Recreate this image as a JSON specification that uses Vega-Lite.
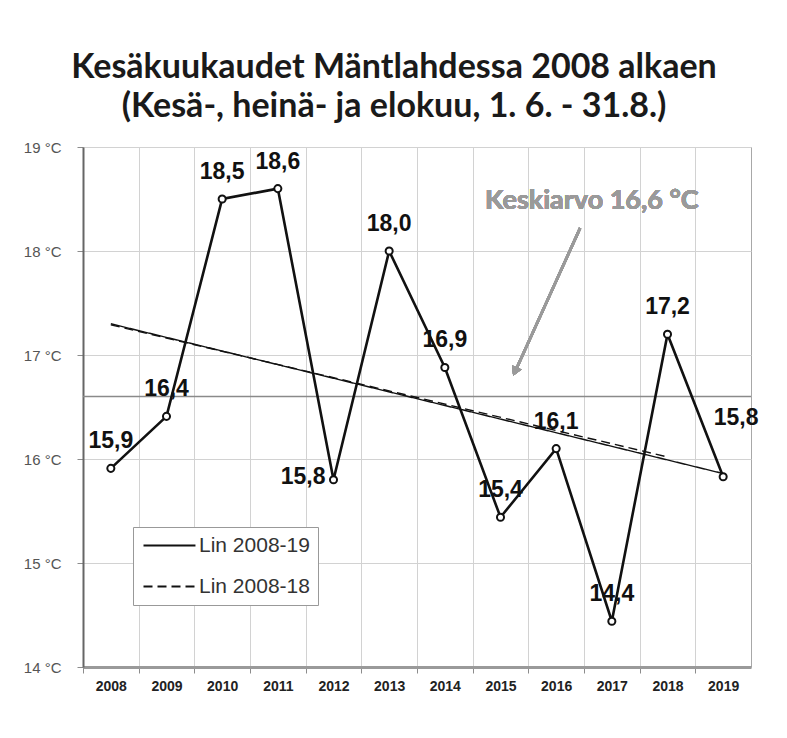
{
  "$schema": "https://vega.github.io/schema/vega-lite/v6.json",
  "width": 668,
  "height": 520,
  "autosize": {"type": "none"},
  "padding": {"left": 83, "top": 147, "right": 36, "bottom": 71},
  "background": "white",
  "title": {
    "text": ["Kesäkuukaudet Mäntlahdessa 2008 alkaen", "(Kesä-, heinä- ja elokuu, 1. 6. - 31.8.)"],
    "anchor": "middle",
    "dx": -23,
    "offset": 16,
    "font": "Lato",
    "fontSize": 34,
    "fontWeight": "bold",
    "color": "#1a1a1a",
    "lineHeight": 39
  },
  "config": {
    "locale": {"number": {"decimal": ",", "thousands": " ", "grouping": [3], "currency": ["", " €"]}},
    "view": {"stroke": "#a8a8a8", "strokeWidth": 1},
    "axis": {"gridColor": "#d2d2d2", "gridWidth": 1, "tickColor": "#8c8c8c", "labelColor": "#222"}
  },
  "data": {
    "values": [
      {"vuosi": 2008, "lampotila": 15.91},
      {"vuosi": 2009, "lampotila": 16.41},
      {"vuosi": 2010, "lampotila": 18.50},
      {"vuosi": 2011, "lampotila": 18.60},
      {"vuosi": 2012, "lampotila": 15.80},
      {"vuosi": 2013, "lampotila": 18.00},
      {"vuosi": 2014, "lampotila": 16.88},
      {"vuosi": 2015, "lampotila": 15.44},
      {"vuosi": 2016, "lampotila": 16.10},
      {"vuosi": 2017, "lampotila": 14.44},
      {"vuosi": 2018, "lampotila": 17.20},
      {"vuosi": 2019, "lampotila": 15.83}
    ]
  },
  "layer": [
    {
      "data": {"values": [{"lampotila": 16.6}]},
      "mark": {"type": "rule", "color": "#8a8a8a", "strokeWidth": 1.5},
      "encoding": {
        "y": {"field": "lampotila", "type": "quantitative", "title": null, "scale": {"domain": [14, 19], "nice": false, "zero": false}}
      }
    },
    {
      "data": {
        "values": [
          {"vuosi": 2008, "lampotila": 17.30, "sarja": "Lin 2008-19"},
          {"vuosi": 2019, "lampotila": 15.86, "sarja": "Lin 2008-19"},
          {"vuosi": 2008, "lampotila": 17.29, "sarja": "Lin 2008-18"},
          {"vuosi": 2018, "lampotila": 16.02, "sarja": "Lin 2008-18"}
        ]
      },
      "mark": {"type": "line", "color": "#111", "strokeWidth": 1.4},
      "encoding": {
        "x": {"field": "vuosi", "type": "quantitative", "title": null},
        "y": {"field": "lampotila", "type": "quantitative", "title": null},
        "strokeDash": {
          "field": "sarja",
          "type": "nominal",
          "scale": {"domain": ["Lin 2008-19", "Lin 2008-18"], "range": [[1, 0], [9, 5]]},
          "legend": {
            "title": null,
            "orient": "none",
            "legendX": 50,
            "legendY": 380,
            "symbolType": "M0,0H6",
            "symbolSize": 300,
            "symbolOffset": -8,
            "symbolStrokeWidth": 1.8,
            "symbolStrokeColor": "#111",
            "labelFontSize": 21,
            "labelFont": "Liberation Sans",
            "labelColor": "#333",
            "labelOffset": 45,
            "padding": 8,
            "strokeColor": "#999",
            "fillColor": "white",
            "rowPadding": 19
          }
        }
      }
    },
    {
      "mark": {"type": "line", "color": "#111", "strokeWidth": 2.6},
      "encoding": {
        "x": {
          "field": "vuosi",
          "type": "quantitative",
          "title": null,
          "scale": {"domain": [2007.5, 2019.5], "nice": false, "zero": false},
          "axis": {
            "format": "d",
            "tickCount": 12,
            "tickOffset": -27.83,
            "labelOffset": 27.83,
            "grid": true,
            "domainColor": "#9a9a9a",
            "domainWidth": 3,
            "tickSize": 6,
            "labelFont": "Liberation Sans",
            "labelFontWeight": "bold",
            "labelFontSize": 14,
            "labelPadding": 6
          }
        },
        "y": {
          "field": "lampotila",
          "type": "quantitative",
          "title": null,
          "axis": {
            "values": [14, 15, 16, 17, 18, 19],
            "labelExpr": "datum.value + ' °C'",
            "grid": true,
            "tickSize": 6,
            "labelPadding": 16,
            "labelFont": "Liberation Sans",
            "labelFontSize": 15,
            "labelColor": "#555",
            "domainColor": "#666",
            "domainWidth": 2
          }
        }
      }
    },
    {
      "mark": {"type": "point", "shape": "circle", "filled": true, "fill": "white", "stroke": "#111", "strokeWidth": 2, "size": 50, "opacity": 1},
      "encoding": {
        "x": {"field": "vuosi", "type": "quantitative", "title": null},
        "y": {"field": "lampotila", "type": "quantitative", "title": null}
      }
    },
    {
      "transform": [{"filter": "datum.vuosi != 2012 && datum.vuosi != 2019"}],
      "mark": {"type": "text", "font": "Liberation Sans", "fontWeight": "bold", "fontSize": 23, "color": "#111", "align": "center", "baseline": "alphabetic", "dy": -20},
      "encoding": {
        "x": {"field": "vuosi", "type": "quantitative", "title": null},
        "y": {"field": "lampotila", "type": "quantitative", "title": null},
        "text": {"field": "lampotila", "type": "quantitative", "format": ".1f"}
      }
    },
    {
      "transform": [{"filter": "datum.vuosi == 2012"}],
      "mark": {"type": "text", "font": "Liberation Sans", "fontWeight": "bold", "fontSize": 23, "color": "#111", "align": "right", "baseline": "alphabetic", "dx": -8, "dy": 4},
      "encoding": {
        "x": {"field": "vuosi", "type": "quantitative", "title": null},
        "y": {"field": "lampotila", "type": "quantitative", "title": null},
        "text": {"field": "lampotila", "type": "quantitative", "format": ".1f"}
      }
    },
    {
      "transform": [{"filter": "datum.vuosi == 2019"}],
      "mark": {"type": "text", "font": "Liberation Sans", "fontWeight": "bold", "fontSize": 23, "color": "#111", "align": "center", "baseline": "alphabetic", "dx": 13, "dy": -52},
      "encoding": {
        "x": {"field": "vuosi", "type": "quantitative", "title": null},
        "y": {"field": "lampotila", "type": "quantitative", "title": null},
        "text": {"field": "lampotila", "type": "quantitative", "format": ".1f"}
      }
    },
    {
      "mark": {"type": "rule", "color": "#9a9a9a", "strokeWidth": 2.5},
      "encoding": {
        "x": {"datum": 2016.43, "type": "quantitative", "title": null},
        "y": {"datum": 18.22, "type": "quantitative", "title": null},
        "x2": {"datum": 2015.28},
        "y2": {"datum": 16.86}
      }
    },
    {
      "mark": {"type": "point", "shape": "triangle-up", "angle": 204, "filled": true, "color": "#9a9a9a", "size": 110, "opacity": 1},
      "encoding": {
        "x": {"datum": 2015.26, "type": "quantitative", "title": null},
        "y": {"datum": 16.84, "type": "quantitative", "title": null}
      }
    },
    {
      "mark": {"type": "text", "text": "Keskiarvo 16,6 °C", "font": "Lato", "fontWeight": "bold", "fontSize": 27, "color": "#9a9a9a", "align": "center", "baseline": "alphabetic"},
      "encoding": {
        "x": {"datum": 2016.64, "type": "quantitative", "title": null},
        "y": {"datum": 18.40, "type": "quantitative", "title": null}
      }
    }
  ]
}
